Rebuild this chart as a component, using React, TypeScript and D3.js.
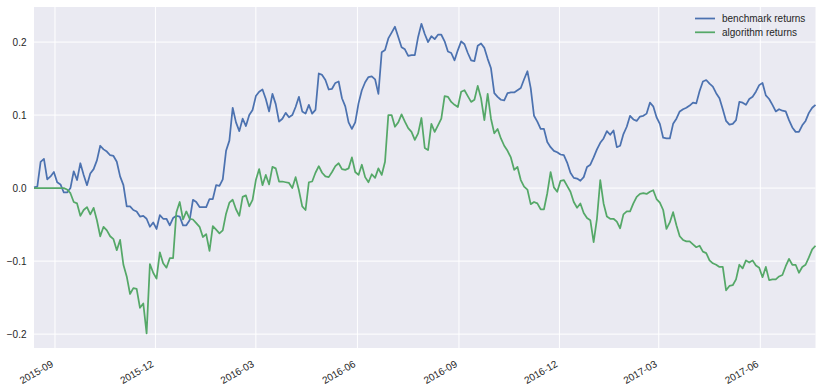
import React from 'react';
import * as d3 from 'd3';

// cumulative returns, sampled every 3 calendar days from 2015-08-13
const startDate = new Date(2015, 7, 13);
const stepDays = 3;

const benchmarkReturns = [
  0.001, 0.002, 0.036, 0.040, 0.012, 0.016, 0.022, 0.008, 0.005, -0.006,
  -0.006, 0.000, 0.023, 0.011, 0.034, 0.018, 0.004, 0.020, 0.026, 0.038,
  0.058, 0.053, 0.050, 0.045, 0.044, 0.036, 0.016, 0.004, -0.025, -0.025,
  -0.030, -0.032, -0.039, -0.038, -0.042, -0.053, -0.047, -0.056, -0.037, -0.042,
  -0.042, -0.051, -0.041, -0.038, -0.039, -0.051, -0.051, -0.044, -0.016, -0.019,
  -0.026, -0.026, -0.026, -0.015, -0.015, 0.004, 0.003, 0.012, 0.051, 0.065,
  0.110, 0.090, 0.078, 0.095, 0.085, 0.100, 0.107, 0.126, 0.132, 0.135,
  0.122, 0.105, 0.129, 0.115, 0.091, 0.095, 0.103, 0.097, 0.100, 0.111,
  0.125, 0.105, 0.102, 0.114, 0.102, 0.107, 0.157, 0.155, 0.148, 0.135,
  0.136, 0.144, 0.146, 0.123, 0.112, 0.090, 0.081, 0.090, 0.116, 0.134,
  0.145, 0.152, 0.153, 0.149, 0.129, 0.186, 0.189, 0.205, 0.213, 0.221,
  0.207, 0.193, 0.190, 0.181, 0.182, 0.182, 0.207, 0.225, 0.211, 0.200,
  0.208, 0.204, 0.210, 0.210, 0.201, 0.187, 0.185, 0.175, 0.189, 0.201,
  0.197, 0.185, 0.175, 0.174, 0.195, 0.198, 0.192, 0.177, 0.164, 0.130,
  0.125, 0.121, 0.120, 0.130, 0.131, 0.131, 0.134, 0.137, 0.149, 0.160,
  0.137, 0.099, 0.091, 0.081, 0.081, 0.063, 0.056, 0.051, 0.049, 0.046,
  0.045, 0.035, 0.021, 0.014, 0.013, 0.010, 0.015, 0.029, 0.032, 0.042,
  0.053, 0.062, 0.068, 0.078, 0.073, 0.079, 0.056, 0.058, 0.074, 0.084,
  0.099, 0.094, 0.092, 0.098, 0.099, 0.102, 0.117, 0.112, 0.097, 0.088,
  0.069, 0.068, 0.068, 0.088, 0.095, 0.105, 0.108, 0.110, 0.113, 0.117,
  0.116, 0.133, 0.146, 0.148, 0.143, 0.139, 0.130, 0.123, 0.108, 0.092,
  0.087, 0.088, 0.093, 0.118, 0.117, 0.114, 0.122, 0.125, 0.132, 0.141,
  0.144, 0.127, 0.122, 0.114, 0.105, 0.108, 0.106, 0.105, 0.093, 0.083,
  0.077, 0.077, 0.086, 0.092, 0.103, 0.110, 0.114,
];

const algorithmReturns = [
  0, 0, 0, 0, 0, 0, 0, 0, 0, 0,
  -0.002, -0.007, -0.019, -0.021, -0.038, -0.030, -0.026, -0.036, -0.027, -0.044,
  -0.066, -0.053, -0.058, -0.066, -0.070, -0.085, -0.071, -0.105, -0.121, -0.145,
  -0.137, -0.138, -0.164, -0.158, -0.199, -0.104, -0.116, -0.124, -0.088, -0.103,
  -0.109, -0.096, -0.096, -0.033, -0.019, -0.043, -0.032, -0.042, -0.043, -0.048,
  -0.053, -0.067, -0.063, -0.086, -0.052, -0.057, -0.062, -0.058, -0.035, -0.020,
  -0.016, -0.029, -0.038, -0.012, -0.010, -0.025, -0.016, 0.011, 0.026, 0.004,
  0.018, 0.005, 0.029, 0.027, 0.009, 0.009, 0.008, 0.007, 0.000, 0.015,
  -0.003, -0.025, -0.030, 0.008, 0.009, 0.021, 0.030, 0.021, 0.016, 0.015,
  0.022, 0.030, 0.034, 0.026, 0.025, 0.027, 0.042, 0.022, 0.018, 0.032,
  0.015, 0.008, 0.019, 0.014, 0.027, 0.018, 0.036, 0.100, 0.100, 0.084,
  0.090, 0.101, 0.091, 0.082, 0.077, 0.066, 0.075, 0.096, 0.055, 0.052,
  0.088, 0.077, 0.086, 0.095, 0.126, 0.125, 0.118, 0.114, 0.111, 0.132,
  0.134, 0.126, 0.118, 0.121, 0.140, 0.123, 0.093, 0.129, 0.095, 0.075,
  0.081, 0.068, 0.058, 0.051, 0.042, 0.025, 0.029, 0.011, 0.002, -0.002,
  -0.022, -0.019, -0.021, -0.029, -0.029, -0.007, 0.022, 0.001, -0.005, 0.010,
  0.011, 0.003, -0.005, -0.019, -0.027, -0.021, -0.034, -0.041, -0.044, -0.074,
  -0.042, 0.011, -0.021, -0.039, -0.042, -0.042, -0.046, -0.055, -0.036, -0.032,
  -0.032, -0.021, -0.012, -0.008, -0.007, -0.008, -0.005, -0.003, -0.015, -0.020,
  -0.030, -0.056, -0.047, -0.033, -0.051, -0.066, -0.071, -0.073, -0.073, -0.077,
  -0.081, -0.079, -0.087, -0.089, -0.099, -0.103, -0.105, -0.108, -0.108, -0.140,
  -0.134, -0.133, -0.125, -0.105, -0.110, -0.099, -0.102, -0.099, -0.106, -0.109,
  -0.122, -0.108, -0.126, -0.125, -0.125, -0.121, -0.119, -0.107, -0.097, -0.105,
  -0.105, -0.116, -0.108, -0.105, -0.095, -0.084, -0.079,
];

const dates = benchmarkReturns.map((_, i) => d3.timeDay.offset(startDate, i * stepDays));

const xTickLabels = ['2015-09', '2015-12', '2016-03', '2016-06', '2016-09', '2016-12', '2017-03', '2017-06'];
const yTicks = [-0.2, -0.1, 0.0, 0.1, 0.2];
const yLimits = [-0.219, 0.248];

const seriesNames = ['benchmark returns', 'algorithm returns'];
const seriesColors = ['#4C72B0', '#55A868'];

const App = () => {
  const width = 822;
  const height = 390;
  const margin = { top: 7, right: 6.5, bottom: 42, left: 34 };
  const font = '"Liberation Sans", Arial, sans-serif';
  const textColor = '#262626';

  const parseMonth = d3.timeParse('%Y-%m');
  const xTicks = xTickLabels.map(s => parseMonth(s));

  const x = d3.scaleTime()
    .domain(d3.extent(dates))
    .range([margin.left, width - margin.right]);

  const y = d3.scaleLinear()
    .domain(yLimits)
    .range([height - margin.bottom, margin.top]);

  const fmt = d3.format('.1f');

  const series = [benchmarkReturns, algorithmReturns];
  const line = d3.line()
    .x((d, i) => x(dates[i]))
    .y(d => y(d));

  const plotBottom = height - margin.bottom;

  return (
    <svg width={width} height={height}
      style={{ position: 'fixed', left: 0, top: 0, background: '#fff' }}
      fontFamily={font}>
      <rect x={margin.left} y={margin.top}
        width={width - margin.left - margin.right}
        height={plotBottom - margin.top}
        fill="#EAEAF2" />

      {yTicks.map(t => (
        <line key={'gy' + t} x1={margin.left} x2={width - margin.right}
          y1={y(t)} y2={y(t)} stroke="#fff" strokeWidth={1} />
      ))}
      {xTicks.map((t, i) => (
        <line key={'gx' + i} x1={x(t)} x2={x(t)}
          y1={margin.top} y2={plotBottom} stroke="#fff" strokeWidth={1} />
      ))}

      {series.map((s, i) => (
        <path key={'s' + i} d={line(s)} fill="none"
          stroke={seriesColors[i]} strokeWidth={1.75} strokeLinejoin="round" />
      ))}

      {yTicks.map(t => (
        <text key={'ty' + t} x={margin.left - 7.5} y={y(t)} dy="0.35em"
          textAnchor="end" fontSize={10} fill={textColor}>{fmt(t)}</text>
      ))}

      {xTicks.map((t, i) => (
        <g key={'tx' + i} transform={`translate(${x(t) - 1},${plotBottom + 18})`}>
          <text transform="rotate(-30)" textAnchor="end"
            fontSize={10} fill={textColor}>{xTickLabels[i]}</text>
        </g>
      ))}

      <g transform="translate(695,18.5)">
        {seriesNames.map((name, i) => (
          <g key={name} transform={`translate(0,${i * 13.8})`}>
            <line x1={0} x2={20} y1={0} y2={0} stroke={seriesColors[i]} strokeWidth={1.75} />
            <text x={27} y={0} dy="0.35em" fontSize={10} fill={textColor}>{name}</text>
          </g>
        ))}
      </g>
    </svg>
  );
};

export default App;
